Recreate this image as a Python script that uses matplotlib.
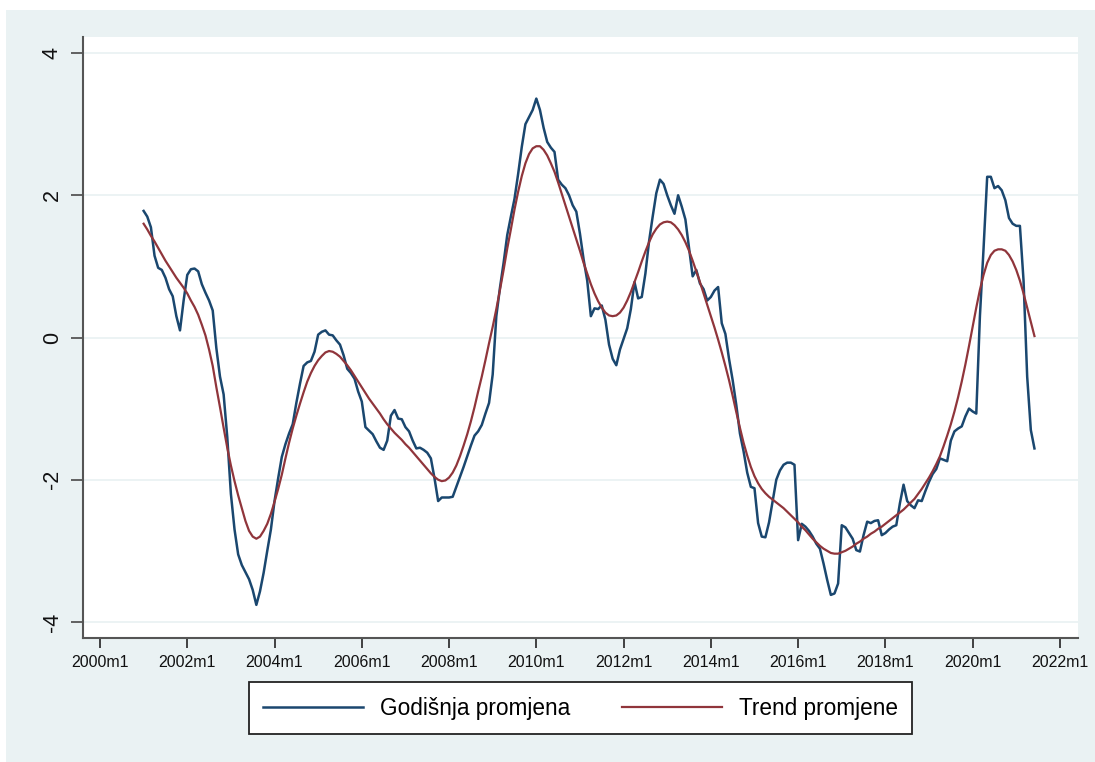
import matplotlib
matplotlib.use("Agg")
import matplotlib.pyplot as plt
from matplotlib.patches import Rectangle
import numpy as np

# ---- data: monthly, 2001m1 .. 2021m6 ----
start_year, start_month = 2001, 1

godisnja_promjena = [
    # 2001
    1.78, 1.70, 1.55, 1.15, 0.98, 0.95, 0.84, 0.68, 0.58, 0.30, 0.10, 0.52,
    # 2002
    0.88, 0.96, 0.97, 0.93, 0.75, 0.63, 0.52, 0.38, -0.15, -0.55, -0.80, -1.40,
    # 2003
    -2.20, -2.70, -3.05, -3.20, -3.30, -3.40, -3.55, -3.76, -3.57, -3.31, -3.00, -2.70,
    # 2004
    -2.30, -1.98, -1.68, -1.50, -1.35, -1.22, -0.92, -0.65, -0.40, -0.35, -0.33, -0.20,
    # 2005
    0.04, 0.08, 0.10, 0.04, 0.03, -0.04, -0.10, -0.25, -0.44, -0.50, -0.58, -0.76,
    # 2006
    -0.90, -1.26, -1.31, -1.36, -1.46, -1.55, -1.58, -1.45, -1.10, -1.02, -1.14, -1.15,
    # 2007
    -1.26, -1.32, -1.45, -1.56, -1.55, -1.58, -1.62, -1.70, -1.98, -2.30, -2.25, -2.25,
    # 2008
    -2.25, -2.24, -2.10, -1.96, -1.82, -1.67, -1.52, -1.38, -1.32, -1.23, -1.07, -0.92,
    # 2009
    -0.52, 0.30, 0.70, 1.05, 1.44, 1.70, 1.95, 2.30, 2.68, 3.00, 3.10, 3.20,
    # 2010
    3.36, 3.20, 2.95, 2.75, 2.67, 2.61, 2.22, 2.15, 2.10, 2.00, 1.86, 1.77,
    # 2011
    1.46, 1.10, 0.80, 0.30, 0.41, 0.40, 0.45, 0.25, -0.10, -0.30, -0.39, -0.17,
    # 2012
    -0.02, 0.13, 0.40, 0.78, 0.55, 0.57, 0.90, 1.35, 1.70, 2.03, 2.22, 2.16,
    # 2013
    2.00, 1.86, 1.74, 2.00, 1.84, 1.66, 1.26, 0.86, 0.95, 0.76, 0.68, 0.52,
    # 2014
    0.57, 0.66, 0.71, 0.20, 0.05, -0.30, -0.60, -0.95, -1.35, -1.60, -1.90, -2.10,
    # 2015
    -2.12, -2.61, -2.80, -2.81, -2.60, -2.30, -2.00, -1.87, -1.79, -1.76, -1.76, -1.79,
    # 2016
    -2.85, -2.62, -2.66, -2.72, -2.80, -2.90, -2.97, -3.18, -3.41, -3.62, -3.60, -3.46,
    # 2017
    -2.64, -2.67, -2.75, -2.83, -2.99, -3.01, -2.78, -2.59, -2.61, -2.58, -2.57, -2.78,
    # 2018
    -2.75, -2.70, -2.66, -2.64, -2.33, -2.07, -2.30, -2.36, -2.40, -2.29, -2.30, -2.16,
    # 2019
    -2.03, -1.92, -1.85, -1.70, -1.72, -1.74, -1.45, -1.32, -1.28, -1.25, -1.11, -1.00,
    # 2020
    -1.04, -1.07, 0.30, 1.25, 2.26, 2.26, 2.10, 2.13, 2.07, 1.93, 1.68, 1.60,
    # 2021
    1.57, 1.57, 0.80, -0.55, -1.30, -1.56,
]

trend_promjene = [
    # 2001
    1.60, 1.52, 1.43, 1.35, 1.26, 1.17, 1.08, 1.00, 0.92, 0.84, 0.77, 0.70,
    # 2002
    0.62, 0.52, 0.43, 0.32, 0.18, 0.03, -0.17, -0.40, -0.70, -0.98, -1.27, -1.55,
    # 2003
    -1.80, -2.02, -2.22, -2.40, -2.58, -2.72, -2.80, -2.83, -2.80, -2.72, -2.62, -2.48,
    # 2004
    -2.31, -2.13, -1.93, -1.70, -1.48, -1.28, -1.10, -0.93, -0.77, -0.62, -0.50, -0.40,
    # 2005
    -0.32, -0.26, -0.21, -0.19, -0.20, -0.23, -0.27, -0.33, -0.39, -0.46, -0.54, -0.62,
    # 2006
    -0.70, -0.78, -0.86, -0.93, -1.00, -1.07, -1.15, -1.22, -1.28, -1.34, -1.39, -1.44,
    # 2007
    -1.50, -1.55, -1.61, -1.67, -1.73, -1.79, -1.85, -1.91, -1.96, -2.00, -2.02, -2.01,
    # 2008
    -1.97, -1.90, -1.80, -1.67, -1.52, -1.36, -1.18, -0.98, -0.76, -0.55, -0.32, -0.08,
    # 2009
    0.15, 0.40, 0.67, 0.95, 1.25, 1.52, 1.80, 2.05, 2.27, 2.45, 2.58, 2.66,
    # 2010
    2.69, 2.69, 2.64, 2.56, 2.45, 2.33, 2.18, 2.02, 1.86, 1.70, 1.54, 1.38,
    # 2011
    1.22, 1.05, 0.90, 0.75, 0.62, 0.51, 0.42, 0.35, 0.31, 0.30, 0.31, 0.35,
    # 2012
    0.42, 0.52, 0.64, 0.78, 0.92, 1.07, 1.21, 1.34, 1.45, 1.53, 1.59, 1.62,
    # 2013
    1.63, 1.62, 1.58, 1.52, 1.44, 1.34, 1.22, 1.08, 0.93, 0.78, 0.62, 0.46,
    # 2014
    0.30, 0.14, -0.03, -0.21, -0.40, -0.60, -0.82, -1.05, -1.27, -1.48, -1.66, -1.82,
    # 2015
    -1.95, -2.05, -2.13, -2.19, -2.24, -2.28, -2.32, -2.36, -2.40, -2.45, -2.50, -2.55,
    # 2016
    -2.60, -2.66, -2.71, -2.77, -2.83, -2.88, -2.93, -2.97, -3.00, -3.03, -3.04, -3.04,
    # 2017
    -3.02, -3.00, -2.97, -2.94, -2.90, -2.87, -2.83, -2.80, -2.76, -2.73, -2.69, -2.66,
    # 2018
    -2.62, -2.58, -2.54, -2.50, -2.46, -2.42, -2.37, -2.32, -2.27, -2.20, -2.13, -2.05,
    # 2019
    -1.97, -1.88, -1.78, -1.67, -1.53, -1.38, -1.22, -1.04, -0.84, -0.62, -0.38, -0.12,
    # 2020
    0.15, 0.42, 0.67, 0.88, 1.05, 1.16, 1.22, 1.24, 1.24, 1.22, 1.16, 1.07,
    # 2021
    0.95, 0.80, 0.62, 0.42, 0.22, 0.02,
]

x_tick_years = [2000, 2002, 2004, 2006, 2008, 2010, 2012, 2014, 2016, 2018, 2020, 2022]
x_tick_labels = [f"{y}m1" for y in x_tick_years]
y_ticks = [-4, -2, 0, 2, 4]
series_labels = ["Godišnja promjena", "Trend promjene"]

# ---- figure ----
plt.rcParams['font.family'] = ['Liberation Sans', 'DejaVu Sans']
W, H = 1095, 762
fig = plt.figure(figsize=(W / 100, H / 100), dpi=100, facecolor="white")

BG = "#EAF2F3"
fig.patches.append(Rectangle((6 / W, 0), 1 - 6 / W, 1 - 10 / H, transform=fig.transFigure,
                             facecolor=BG, edgecolor="none", zorder=-10))

left, right, top, bottom = 83, 1078, 37, 638
ax = fig.add_axes([left / W, 1 - bottom / H, (right - left) / W, (bottom - top) / H])
ax.set_facecolor("white")

n = len(godisnja_promjena)
m0 = (start_year - 2000) * 12 + (start_month - 1)
months = np.arange(m0, m0 + n)

blue = "#1a476f"
red = "#90353b"
ax.plot(months, godisnja_promjena, color=blue, lw=1.8, label=series_labels[0], zorder=3,
        solid_joinstyle="round")
ax.plot(months, trend_promjene, color=red, lw=1.6, label=series_labels[1], zorder=4)

ax.set_xlim(-17 / 3.636, (right - 100) / 3.636)
ax.set_ylim(-4.226, 4.226)

ax.set_xticks([(y - 2000) * 12 for y in x_tick_years])
ax.set_xticklabels(x_tick_labels, fontsize=11.5)
ax.set_yticks(y_ticks)
ax.set_yticklabels([str(v) for v in y_ticks], fontsize=15.5, rotation=90, va="center")

for v in y_ticks:
    ax.axhline(v, color=BG, lw=1.3, zorder=1)

for s in ("top", "right"):
    ax.spines[s].set_visible(False)
spine_col = "#555555"
for s in ("left", "bottom"):
    ax.spines[s].set_color(spine_col)
    ax.spines[s].set_linewidth(1.5)
ax.tick_params(axis="x", direction="out", length=7, width=1.3, color="#333333", pad=5,
               labelcolor="#111111")
ax.tick_params(axis="y", direction="out", length=8.5, width=1.3, color=spine_col, pad=6,
               labelcolor="#111111")

leg = fig.legend(loc="center", bbox_to_anchor=(580.5 / W, 1 - 708 / H), ncol=2,
                 fontsize=16.3, frameon=True, fancybox=False, handlelength=4.4,
                 handletextpad=0.75, columnspacing=2.3, borderpad=0.62)
leg.get_frame().set_edgecolor("#222222")
leg.get_frame().set_linewidth(1.3)
leg.get_frame().set_facecolor("white")
leg.get_frame().set_alpha(1)

fig.savefig("out.png", dpi=100, facecolor=fig.get_facecolor())
